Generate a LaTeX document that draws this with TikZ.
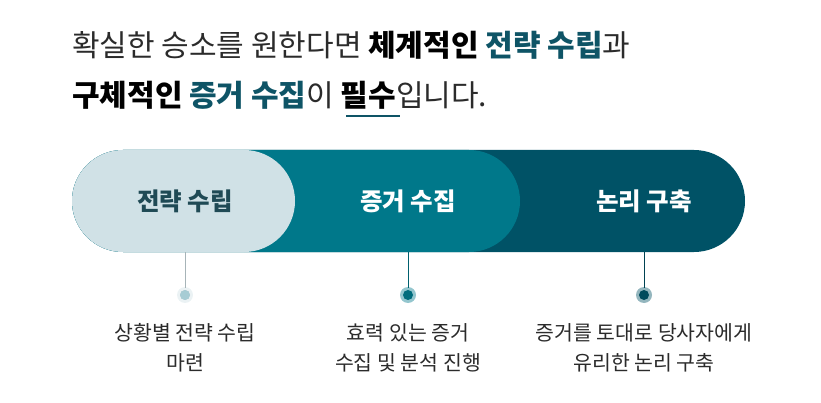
\documentclass[tikz,border=0pt]{standalone}
\usepackage{fontspec}
\setmainfont{Noto Sans CJK KR}
\definecolor{pale}{HTML}{D0E1E6}
\definecolor{teal}{HTML}{00788A}
\definecolor{deep}{HTML}{005266}
\definecolor{ink}{HTML}{1F4A55}
\definecolor{hl}{HTML}{0E5466}
\definecolor{body}{HTML}{2B2B2B}

\begin{document}
\begin{tikzpicture}[
        x = 1pt, y = -1pt,
        pill/.style = {rounded corners=51pt},
        step label/.style = {font=\fontsize{24.5}{28}\selectfont\bfseries},
        note/.style = {font=\fontsize{20.5}{30}\selectfont, text=body, align=center},
        title/.style = {font=\fontsize{30}{50}\selectfont, text=body, anchor=west, inner sep=0pt}
    ]

    \useasboundingbox (0, 0) rectangle (821, 403);

    % headline
    \node[title] (l1) at (72, 45) {확실한 승소를 원한다면 \textbf{\color{black}체계적인} \textbf{\color{hl}전략 수립}과};
    \node[title] (l2) at (72, 95) {\textbf{\color{black}구체적인} \textbf{\color{hl}증거 수집}이 \textbf{\color{black}필수}입니다.};
    \draw[hl, line width=1.5pt] (346, 116) -- (400, 116);

    % bands, back to front
    \fill[deep, pill] (72, 150) rectangle (745, 252);
    \fill[teal, pill] (72, 150) rectangle (520, 252);
    \fill[pale, pill] (72, 150) rectangle (295, 252);

    \node[step label, text=ink] (s1) at (185, 201) {전략 수립};
    \node[step label, text=white] (s2) at (408, 201) {증거 수집};
    \node[step label, text=white] (s3) at (644, 201) {논리 구축};

    % markers
    \foreach \x/\c/\name in {185/pale/a, 408/teal/b, 644/deep/c} {
        \coordinate (top\name) at (\x, 252);
        \fill[\c!60!white, opacity=0.7] (\x, 295) circle (8pt);
        \fill[\c!90!black] (\x, 295) circle (5pt);
        \coordinate (dot\name) at (\x, 288);
        \draw[\c!80!black, line width=0.6pt] (top\name) -- (dot\name);
    }
    \fill[pale!80!teal] (185, 295) circle (5pt);

    \node[note] (n1) at (185, 348) {상황별 전략 수립\\마련};
    \node[note] (n2) at (408, 348) {효력 있는 증거\\수집 및 분석 진행};
    \node[note] (n3) at (644, 348) {증거를 토대로 당사자에게\\유리한 논리 구축};

\end{tikzpicture}
\end{document}
